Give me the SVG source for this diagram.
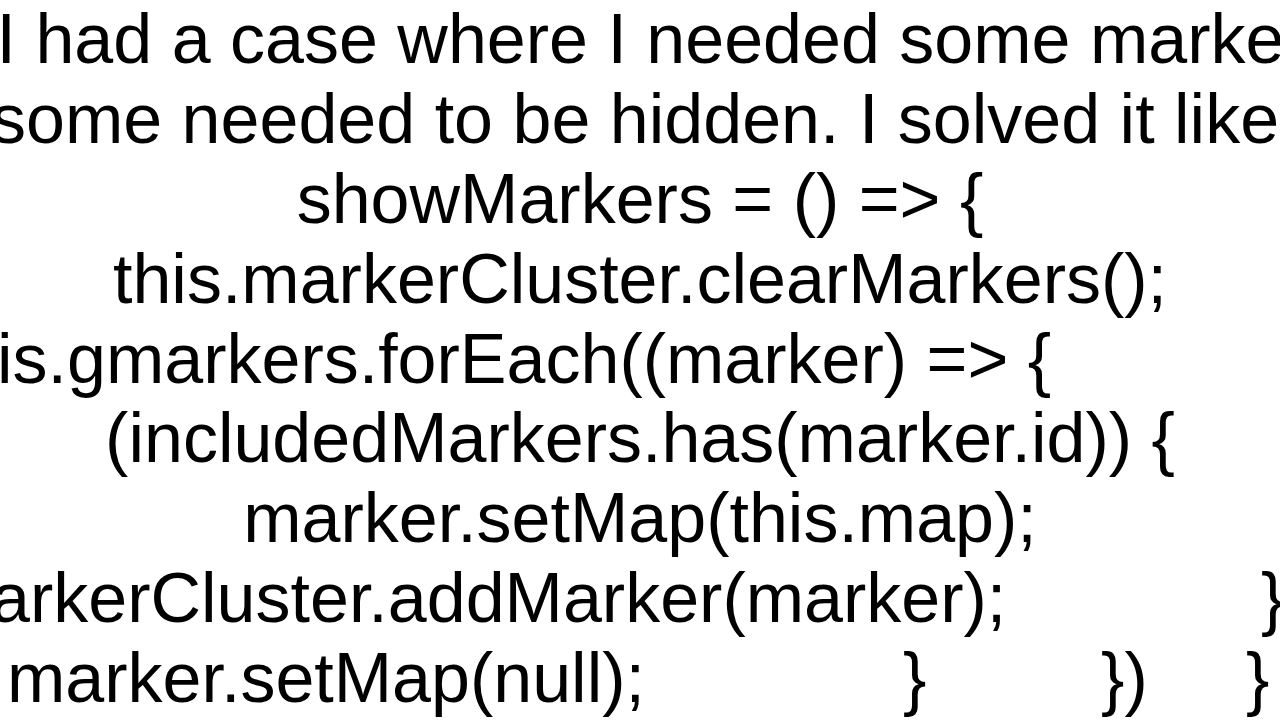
<svg xmlns="http://www.w3.org/2000/svg" width="1280" height="720" viewBox="0 0 1280 720">
<style>
text{font-family:"Liberation Sans",Arial,sans-serif;font-size:70px;fill:#000}
.c{text-anchor:middle}
</style>
<rect width="1280" height="720" fill="#fff"/>
<g id="text">
<text x="-3.5" y="63">I had a case where I needed some marke</text>
<text x="-9" y="143">some needed to be hidden. I solved it like</text>
<text class="c" x="640" y="223">showMarkers = () =&gt; {</text>
<text class="c" x="640" y="303">this.markerCluster.clearMarkers();</text>
<text x="-3" y="383">is.gmarkers.forEach((marker) =&gt; {</text>
<text class="c" x="640" y="462">(includedMarkers.has(marker.id)) {</text>
<text class="c" x="640" y="542">marker.setMap(this.map);</text>
<text x="-9" y="622">arkerCluster.addMarker(marker);</text>
<text x="1261" y="622">}</text>
<text x="7" y="702">marker.setMap(null);</text>
<text x="903" y="702">}</text>
<text x="1101" y="702">})</text>
<text x="1246" y="702">}</text>
</g>
</svg>
